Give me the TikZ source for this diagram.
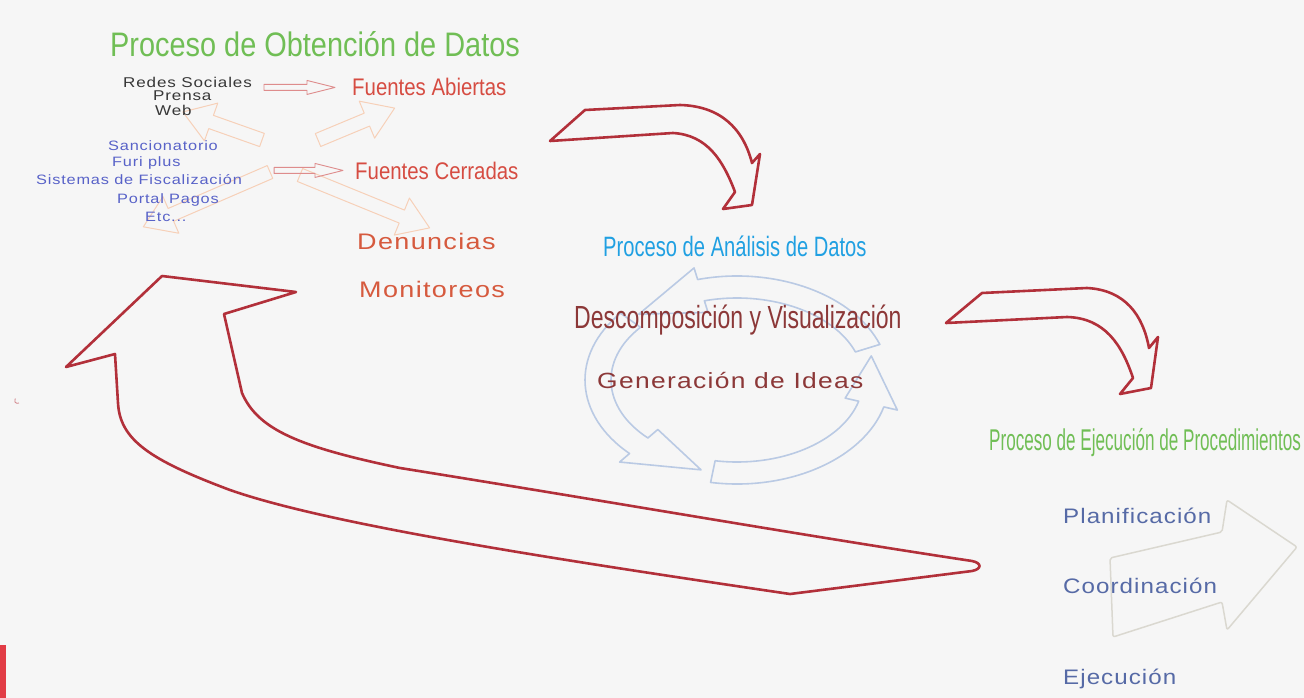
\documentclass[tikz,border=0pt]{standalone}
\usepackage{fontspec}
\setmainfont{Liberation Sans}
\newfontfamily\condfont[FakeStretch=0.85]{Liberation Sans}
\newfontfamily\midfont[FakeStretch=0.72]{Liberation Sans}
\newfontfamily\slimfont[FakeStretch=0.57]{Liberation Sans}
\newfontfamily\widefont[FakeStretch=1.2,LetterSpace=6]{Liberation Sans}
\newfontfamily\planfont[FakeStretch=1.15,LetterSpace=5]{Liberation Sans}
\usetikzlibrary{calc}
\usetikzlibrary{arrows.meta}

\definecolor{paper}{RGB}{246,246,246}
\definecolor{titlegreen}{RGB}{112,190,85}
\definecolor{srcred}{RGB}{214,76,66}
\definecolor{denred}{RGB}{214,90,62}
\definecolor{listblue}{RGB}{88,98,200}
\definecolor{darkgray}{RGB}{55,55,55}
\definecolor{anablue}{RGB}{32,160,226}
\definecolor{wine}{RGB}{140,56,56}
\definecolor{planblue}{RGB}{86,106,166}
\definecolor{arrowred}{RGB}{178,48,58}
\definecolor{pinkline}{RGB}{222,140,140}
\definecolor{peach}{RGB}{246,208,184}
\definecolor{cycleblue}{RGB}{186,202,228}
\definecolor{ghost}{RGB}{218,216,208}
\definecolor{barred}{RGB}{226,60,70}

\tikzset{
  lbl/.style={anchor=base west, inner sep=0pt},
  bigarrow/.style={draw=arrowred, line width=2.6pt, line join=round},
  faintarrow/.style={draw=peach, line width=1pt, line join=round},
  cyclestroke/.style={draw=cycleblue, line width=1.6pt, line join=round},
  hollowarrow/.style={draw=pinkline, line width=0.9pt, line join=round},
}

% one block arrow of the cycle: tail angle, base angle, tip angle
\newcommand{\cyclepiece}[3]{%
  \draw[cyclestroke] ($(ciclo)+(#1:152 and 104)$) arc[start angle=#1, end angle=#2, x radius=152, y radius=104]
    -- ($(ciclo)+(#2:166 and 116)$) -- ($(ciclo)+(#3:139 and 93)$) -- ($(ciclo)+(#2:112 and 70)$)
    -- ($(ciclo)+(#2:126 and 82)$) arc[start angle=#2, end angle=#1, x radius=126, y radius=82] -- cycle;}

% hollow arrow between two named coordinates
\newcommand{\hollow}[2]{%
  \draw[hollowarrow] ($(#1)+(0,-3)$) -- ($(#2)+(-28,-3)$) -- ($(#2)+(-28,-7)$) -- (#2)
    -- ($(#2)+(-28,7)$) -- ($(#2)+(-28,3)$) -- ($(#1)+(0,3)$) -- cycle;}

\begin{document}
\begin{tikzpicture}[x=1pt, y=-1pt]
\fill[paper] (0,0) rectangle (1304,698);
\useasboundingbox (0,0) rectangle (1304,698);
\fill[barred] (0,645) rectangle (6,698);
\draw[arrowred!60, line width=0.8pt] (19,403) arc[start angle=60, end angle=220, radius=3];

% ghost arrow behind the execution steps
\draw[ghost, line width=1.5pt, line join=round, rounded corners=2pt] (1110,558) -- (1222,532) -- (1227,500) -- (1297,547) -- (1227,630) -- (1222,602) -- (1113,637) -- cycle;

% analysis cycle
\coordinate (ciclo) at (737,380);
\cyclepiece{100}{15}{-15}
\cyclepiece{-20}{-105}{-135}
\cyclepiece{220}{135}{105}

% faint arrows among the sources
\foreach \tx/\ty/\ang/\len in {262/140/160.5/84, 318/140/22.6/83, 270/172/-156.6/138, 300/175/-22.2/140}
  \draw[faintarrow, shift={(\tx,\ty)}, rotate=\ang] (0,-7) -- (\len-30,-7) -- (\len-30,-20) -- (\len,0) -- (\len-30,20) -- (\len-30,7) -- (0,7) -- cycle;

% red flow arrows
\draw[bigarrow] (550,141) -- (585,110) -- (680,105) .. controls (720,106) and (743,128) .. (752,163) -- (760,154) -- (752,205) -- (723,209) -- (735,192) .. controls (723,160) and (707,135) .. (673,133) -- cycle;
\draw[bigarrow] (946,323) -- (982,293) -- (1087,288) .. controls (1125,290) and (1143,315) .. (1149,348) -- (1158,337) -- (1151,388) -- (1120,394) -- (1133,378) .. controls (1122,345) and (1105,318) .. (1067,317) -- cycle;
\draw[bigarrow] (162,276) -- (296,292) -- (224,314) -- (242,393) .. controls (258,430) and (300,447) .. (400,468) .. controls (600,500) and (800,535) .. (972,561) .. controls (982,563) and (982,569) .. (972,571) -- (790,594) .. controls (560,560) and (330,525) .. (230,490) .. controls (150,460) and (120,440) .. (118,403) -- (115,354) -- (66,367) -- cycle;

% obtencion
\node[lbl, text=titlegreen, font=\condfont\fontsize{34}{40}\selectfont] (obtencion) at (110,57) {Proceso de Obtención de Datos};
\node[lbl, text=darkgray, font=\widefont\fontsize{14.2}{16}\selectfont] (redes) at (123,88) {Redes Sociales};
\node[lbl, text=darkgray, font=\widefont\fontsize{14.2}{16}\selectfont] (prensa) at (153,101) {Prensa};
\node[lbl, text=darkgray, font=\widefont\fontsize{14.2}{16}\selectfont] (web) at (155,116) {Web};
\node[lbl, text=srcred, font=\condfont\fontsize{24}{28}\selectfont] (abiertas) at (352,96) {Fuentes Abiertas};
\node[lbl, text=listblue, font=\widefont\fontsize{13.6}{16}\selectfont] (sanc) at (108,151) {Sancionatorio};
\node[lbl, text=listblue, font=\widefont\fontsize{13.6}{16}\selectfont] (furi) at (112,167) {Furi plus};
\node[lbl, text=listblue, font=\widefont\fontsize{13.6}{16}\selectfont] (sistemas) at (36,184) {Sistemas de Fiscalización};
\node[lbl, text=listblue, font=\widefont\fontsize{13.6}{16}\selectfont] (portal) at (117,204) {Portal Pagos};
\node[lbl, text=listblue, font=\widefont\fontsize{13.6}{16}\selectfont] (etc) at (145,221) {Etc...};
\node[lbl, text=srcred, font=\condfont\fontsize{24}{28}\selectfont] (cerradas) at (355,179) {Fuentes Cerradas};
\node[lbl, text=denred, font=\widefont\fontsize{22.5}{26}\selectfont] (denuncias) at (357,249) {Denuncias};
\node[lbl, text=denred, font=\widefont\fontsize{22.5}{26}\selectfont] (monitoreos) at (359,297) {Monitoreos};

\coordinate (ha) at ($(redes.east |- abiertas.west)+(12,0)$);
\coordinate (hb) at ($(abiertas.west)+(-17,0)$);
\hollow{ha}{hb}
\coordinate (hc) at ($(sistemas.east |- cerradas.west)+(32,0)$);
\coordinate (hd) at ($(cerradas.west)+(-12,0)$);
\hollow{hc}{hd}

% analisis
\node[lbl, text=anablue, font=\midfont\fontsize{28}{32}\selectfont] (analisis) at (603,256) {Proceso de Análisis de Datos};
\node[lbl, text=wine, font=\midfont\fontsize{32}{36}\selectfont] (descomp) at (574,328) {Descomposición y Visualización};
\node[lbl, text=wine, font=\widefont\fontsize{22}{26}\selectfont] (ideas) at (597,388) {Generación de Ideas};

% ejecucion
\node[lbl, text=titlegreen, font=\slimfont\fontsize{30}{34}\selectfont] (ejecucion) at (989,450) {Proceso de Ejecución de Procedimientos};
\node[lbl, text=planblue, font=\planfont\fontsize{21}{25}\selectfont] (plan) at (1063,523) {Planificación};
\node[lbl, text=planblue, font=\planfont\fontsize{21}{25}\selectfont] (coord) at (1063,593) {Coordinación};
\node[lbl, text=planblue, font=\planfont\fontsize{21}{25}\selectfont] (ejec) at (1063,684) {Ejecución};
\end{tikzpicture}
\end{document}
